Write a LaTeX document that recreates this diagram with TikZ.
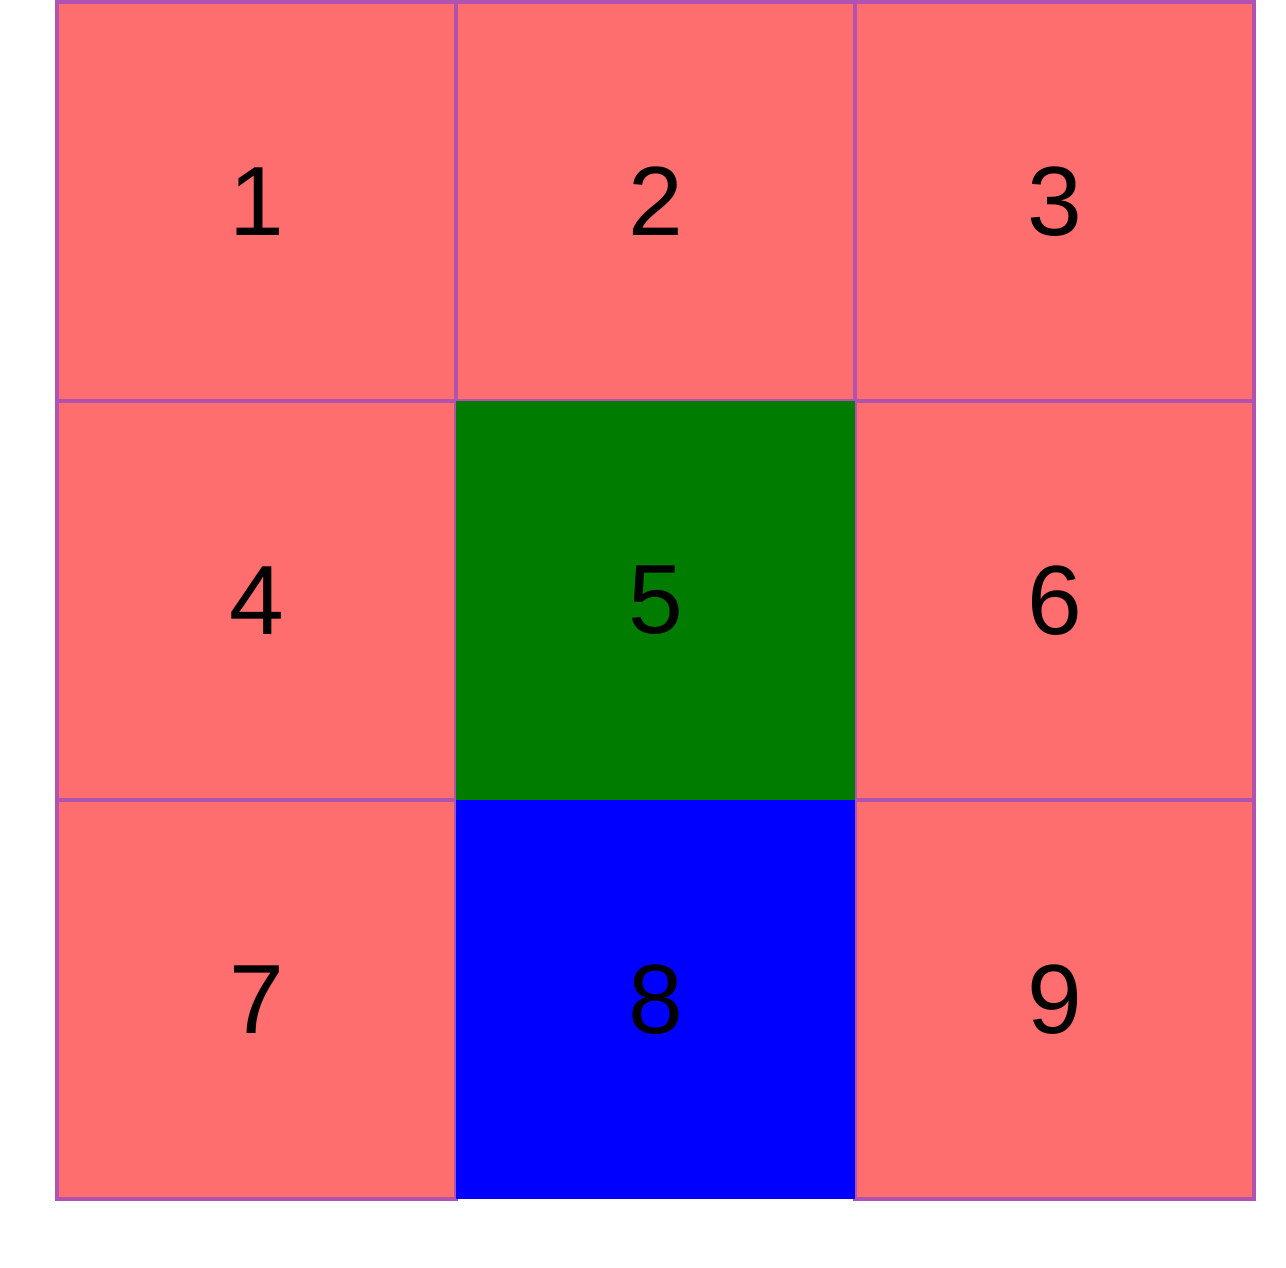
\documentclass[tikz,border=0pt]{standalone}
\usepackage{fontspec}
\setmainfont{Liberation Sans}
\usetikzlibrary{positioning}
\definecolor{gridline}{RGB}{178,82,176}
\definecolor{cellred}{RGB}{255,110,110}
\definecolor{cellgreen}{RGB}{0,124,0}
\definecolor{cellblue}{RGB}{0,0,255}
\begin{document}
\begin{tikzpicture}[cell/.style={draw=gridline,line width=1pt,fill=cellred,minimum size=3.99cm,inner sep=0pt,outer sep=0pt,font=\fontsize{28}{34}\selectfont}]
\useasboundingbox (0,0) rectangle (12.86,12.68);
\node[cell] (c1) at (2.565,10.665) {1};
\node[cell,right=0pt of c1] (c2) {2};
\node[cell,right=0pt of c2] (c3) {3};
\node[cell,below=0pt of c1] (c4) {4};
\node[cell,below=0pt of c3] (c6) {6};
\node[cell,below=0pt of c4] (c7) {7};
\node[cell,below=0pt of c6] (c9) {9};
\node[cell,below=0pt of c2,fill=cellgreen,draw=none] (c5) {5};
\node[cell,below=0pt of c5,fill=cellblue,draw=none] (c8) {8};
\end{tikzpicture}
\end{document}
